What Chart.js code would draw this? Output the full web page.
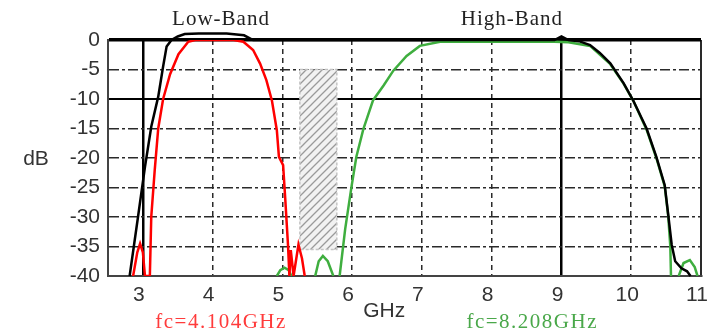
<!DOCTYPE html>
<html>
<head>
<meta charset="utf-8">
<script src="https://cdn.jsdelivr.net/npm/chart.js@4"></script>
<style>
  html, body { margin: 0; padding: 0; background: #fff; }
  #wrap { width: 708px; height: 335px; position: relative; }
</style>
</head>
<body>
<div id="wrap"><canvas id="c"></canvas></div>
<script>
// tick labels
const xTicks = [3, 4, 5, 6, 7, 8, 9, 10, 11];
const yMin = -40, yMax = 0, yStep = 5;

// combined response (black)
const blackX = [2.81, 2.93, 3.03, 3.12, 3.22, 3.29, 3.34, 3.41, 3.5, 3.6, 3.8, 4.2, 4.45, 4.58, 5, 6, 7, 8, 8.9, 9.0, 9.1, 9.25, 9.41, 9.55, 9.70, 9.89, 10.03, 10.22, 10.36, 10.48, 10.53, 10.58, 10.63, 10.72, 10.80, 10.85];
const blackY = [-40, -30, -21.5, -14.7, -9.6, -4.5, -1.1, 0, 0.6, 1.0, 1.1, 1.1, 0.8, 0, 0, 0, 0, 0, 0, 0.6, 0, -0.2, -0.85, -2.2, -3.95, -7.3, -10.3, -15, -19.8, -24.6, -29.6, -34.7, -37.5, -38.7, -39.2, -40];

// low band (red)
const redX = [2.86, 2.92, 2.96, 3.0, 3.03, 3.1, 3.12, 3.17, 3.22, 3.29, 3.39, 3.51, 3.65, 3.75, 4.0, 4.3, 4.44, 4.58, 4.68, 4.77, 4.85, 4.92, 4.95, 5.01, 5.04, 5.08, 5.1, 5.12, 5.16, 5.23, 5.28, 5.32];
const redY = [-40, -36, -34.5, -36, -40, -40, -30, -22, -15, -10, -5.8, -2.4, -0.3, 0, 0, 0, -0.3, -1.7, -4, -6.8, -10.3, -15.3, -19.8, -21.2, -26.8, -34.7, -40, -35.6, -40, -34.7, -37, -40];

// high band (green), null = break between lobes
const greenX = [4.92, 4.97, 5.03, 5.09, 5.13, 5.3,
  5.47, 5.52, 5.58, 5.65, 5.73, 5.78,
  5.82, 5.9, 5.99, 6.06, 6.16, 6.30, 6.45, 6.59, 6.78, 6.97, 7.26, 8, 8.9, 9.1, 9.41, 9.70, 9.89, 10.03, 10.22, 10.36, 10.48, 10.53, 10.56, 10.57, 10.62,
  10.68, 10.75, 10.84, 10.91, 10.95];
const greenY = [-40, -39, -38.6, -39, -40, null,
  -40, -37.5, -36.6, -37.5, -40, null,
  -40, -32, -24.9, -19.8, -15.1, -10.2, -7.7, -5.2, -2.7, -1.0, -0.3, -0.3, -0.3, -0.4, -1.0, -4.1, -7.4, -10.3, -15.2, -20, -24.8, -29.8, -35, -40, null,
  -40, -37.8, -37.3, -38.5, -40];

// guard band (hatched box)
const hatchX = [5.25, 5.25, 5.78, 5.78, 5.25];
const hatchY = [-35.5, -5, -5, -35.5, -35.5];

const pts = (xs, ys) => xs.map((x, i) => ({ x, y: ys[i] }));

function hatchPattern() {
  const p = document.createElement('canvas');
  p.width = 8; p.height = 8;
  const g = p.getContext('2d');
  g.fillStyle = '#f2f2f2';
  g.fillRect(0, 0, 8, 8);
  g.strokeStyle = '#9a9a9a';
  g.lineWidth = 1.3;
  g.beginPath();
  g.moveTo(0, 8); g.lineTo(8, 0);
  g.moveTo(-4, 4); g.lineTo(4, -4);
  g.moveTo(4, 12); g.lineTo(12, 4);
  g.stroke();
  return g.createPattern(p, 'repeat');
}

// free text around the plot
const labelsPlugin = {
  id: 'labels',
  afterDraw(chart) {
    const { ctx, scales: { x } } = chart;
    const put = (txt, px, py, font, color, spacing) => {
      ctx.save();
      ctx.font = font;
      ctx.fillStyle = color;
      ctx.textAlign = 'center';
      ctx.textBaseline = 'middle';
      ctx.letterSpacing = spacing || '0px';
      ctx.fillText(txt, px, py);
      ctx.restore();
    };
    const serif = '21px "Liberation Serif", "DejaVu Serif", serif';
    put('Low-Band', x.getPixelForValue(4.12), 19, serif, '#222', '1px');
    put('High-Band', x.getPixelForValue(8.29), 19, serif, '#222', '1px');
    put('fc=4.104GHz', x.getPixelForValue(4.12), 322, serif, '#ff3b3b', '1.5px');
    put('fc=8.208GHz', x.getPixelForValue(8.58), 322, serif, '#4aa84a', '1.5px');
    put('GHz', x.getPixelForValue(6.46), 311, '21px "Liberation Sans", Arial, sans-serif', '#333');
    put('dB', 36, 159, '21px "Liberation Sans", Arial, sans-serif', '#333');
  }
};

new Chart(document.getElementById('c'), {
  type: 'line',
  data: {
    datasets: [
      { data: pts(blackX, blackY), borderColor: '#000', borderWidth: 2.5, clip: false },
      { data: pts(redX, redY), borderColor: '#ff0000', borderWidth: 2.5 },
      { data: pts(greenX, greenY), borderColor: '#3fae3f', borderWidth: 2.5 },
      { data: pts(hatchX, hatchY), borderColor: '#c4c4c4', borderWidth: 1.5, borderDash: [3, 2],
        backgroundColor: hatchPattern(), fill: 'shape', order: 10 }
    ]
  },
  options: {
    responsive: true,
    maintainAspectRatio: false,
    animation: false,
    layout: { padding: { top: 40, right: 7, left: 0, bottom: 0 } },
    elements: { point: { radius: 0 }, line: { tension: 0 } },
    plugins: { legend: { display: false }, tooltip: { enabled: false } },
    scales: {
      x: {
        type: 'linear',
        min: 2.5,
        max: 11,
        afterBuildTicks: axis => { axis.ticks = xTicks.map(v => ({ value: v })); },
        afterFit: axis => { axis.height = 59; axis.paddingLeft = 0; axis.paddingRight = 0; },
        ticks: { font: { size: 21, family: '"Liberation Sans", Arial, sans-serif' }, color: '#333', padding: 7, labelOffset: -4 },
        grid: {
          drawTicks: false,
          color: ctx => (ctx.tick && (ctx.tick.value === 3 || ctx.tick.value === 9)) ? '#000' : '#2a2a2a',
          lineWidth: ctx => {
            const v = ctx.tick && ctx.tick.value;
            if (v === 3 || v === 9) return 2.5;
            if (v === 11) return 2;
            return 1.5;
          }
        },
        border: {
          display: true, color: '#444', width: 2,
          dash: ctx => {
            const v = ctx.tick && ctx.tick.value;
            if (v === undefined || v === 3 || v === 9 || v === 11) return [];
            return [5, 4];
          }
        }
      },
      y: {
        min: yMin,
        max: yMax,
        afterFit: axis => { axis.width = 108; axis.paddingTop = 0; axis.paddingBottom = 0; },
        ticks: { stepSize: yStep, font: { size: 21, family: '"Liberation Sans", Arial, sans-serif' }, color: '#333', padding: 8 },
        grid: {
          drawTicks: false,
          color: ctx => {
            const v = ctx.tick && ctx.tick.value;
            return (v === 0 || v === -10) ? '#000' : '#2a2a2a';
          },
          lineWidth: ctx => {
            const v = ctx.tick && ctx.tick.value;
            if (v === 0) return 3.5;
            if (v === -10 || v === -40) return 2;
            return 1.5;
          }
        },
        border: {
          display: true, color: '#444', width: 2,
          dash: ctx => {
            const v = ctx.tick && ctx.tick.value;
            if (v === undefined || v === 0 || v === -10 || v === -40) return [];
            return [10, 3, 3, 3];
          }
        }
      }
    }
  },
  plugins: [labelsPlugin]
});
</script>
</body>
</html>
